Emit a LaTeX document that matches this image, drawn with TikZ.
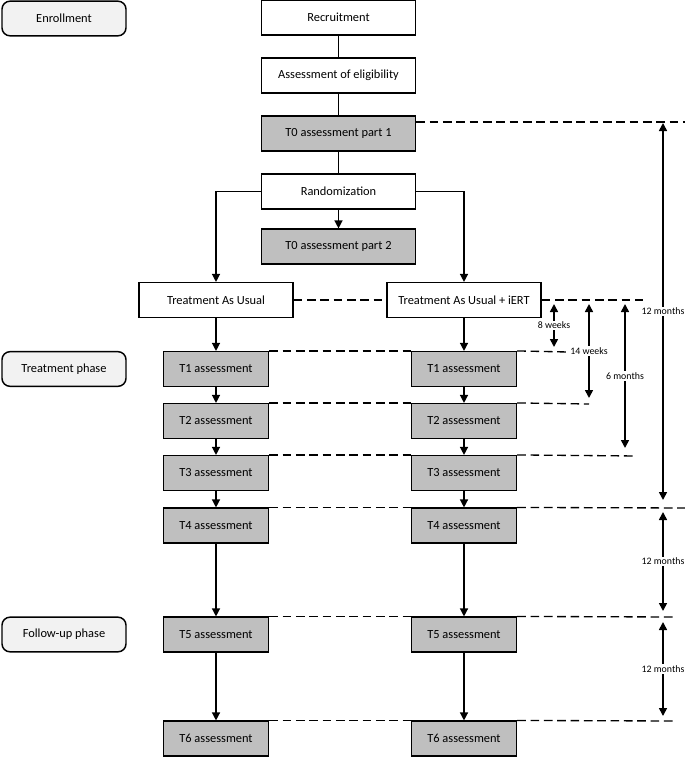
\documentclass[tikz,border=0pt]{standalone}
\usepackage{fontspec}
\setmainfont{Carlito}
\usetikzlibrary{arrows.meta}

\tikzset{
  >={Triangle[length=6pt,width=6pt]},
  box/.style={draw,line width=1.1pt,minimum width=115.5pt,minimum height=26pt,inner sep=0pt,font=\fontsize{9.3}{11}\selectfont},
  greybox/.style={box,fill=gray!50},
  tbox/.style={greybox,minimum width=78.75pt},
  phase/.style={box,rounded corners=6pt,fill=black!5,minimum width=93pt},
  link/.style={line width=1pt},
  guide/.style={line width=1pt,dash pattern=on 6.5pt off 3.5pt},
  span/.style={line width=1.2pt,<->},
  spanlabel/.style={fill=white,inner sep=1pt,font=\fontsize{7.4}{8}\selectfont}
}

\begin{document}
\begin{tikzpicture}[x=0.75pt,y=-0.75pt]
  \useasboundingbox (0,0) rectangle (685,757);

  % phase labels on the left
  \node[phase] (enrol) at (64,18.5) {Enrollment};
  \node[phase] (treat) at (64,369) {Treatment phase};
  \node[phase] (follow) at (64,634.5) {Follow-up phase};

  % enrollment chain
  \node[box] (recruit) at (338.5,17.5) {Recruitment};
  \node[box] (elig) at (338.5,75.5) {Assessment of eligibility};
  \node[greybox] (t0a) at (338.5,133.5) {T0 assessment part 1};
  \node[box] (rand) at (338.5,191.5) {Randomization};
  \node[greybox] (t0b) at (338.5,246.5) {T0 assessment part 2};

  % the two arms
  \node[box] (tau) at (216,300) {Treatment As Usual};
  \node[box] (iert) at (464,300) {Treatment As Usual + iERT};

  % assessments T1..T6, both arms
  \foreach \t/\y in {1/369,2/421,3/473,4/525.5,5/634.5,6/738.5}{
    \node[tbox] (l\t) at (216,\y) {T\t\ assessment};
    \node[tbox] (r\t) at (464,\y) {T\t\ assessment};
  }

  % flow
  \draw[link] (recruit) -- (elig);
  \draw[link] (elig) -- (t0a);
  \draw[link] (t0a) -- (rand);
  \draw[link,->] (rand) -- (t0b);
  \draw[link,->] (rand.west) -| (tau.north);
  \draw[link,->] (rand.east) -| (iert.north);
  \draw[link,->] (tau) -- (l1);
  \draw[link,->] (iert) -- (r1);
  \foreach \a/\b in {1/2,2/3,3/4,4/5,5/6}{
    \draw[link,->] (l\a) -- (l\b);
    \draw[link,->] (r\a) -- (r\b);
  }

  % ends of the dashed time lines
  \coordinate (e0) at (685,122);
  \coordinate (ea) at (643,300);
  \coordinate (e1) at (568,352);
  \coordinate (e2) at (589,404);
  \coordinate (e3) at (637,456);
  \coordinate (e4) at (685,508);
  \coordinate (e5) at (675,617);
  \coordinate (e6) at (675,721);

  % dashed time lines
  \draw[guide] (t0a.east |- e0) -- (e0);
  \draw[guide] (tau) -- (iert);
  \draw[guide] (iert.east) -- (ea);
  \foreach \t in {1,...,6}{
    \draw[guide] (l\t.north east) -- (r\t.north west);
    \draw[guide] (r\t.north east) -- (e\t);
  }

  % intervals
  \coordinate (w8a) at (554,304);  \coordinate (w8b) at (554,347);
  \coordinate (w14a) at (589,304); \coordinate (w14b) at (589,398);
  \coordinate (m6a) at (625,304);  \coordinate (m6b) at (625,448);
  \coordinate (ya) at (663,123);   \coordinate (yb) at (663,500);
  \coordinate (yc) at (663,512);   \coordinate (yd) at (663,611);
  \coordinate (ye) at (663,622);   \coordinate (yf) at (663,716);
  \draw[span] (w8a) -- node[spanlabel] {8 weeks} (w8b);
  \draw[span] (w14a) -- node[spanlabel] {14 weeks} (w14b);
  \draw[span] (m6a) -- node[spanlabel] {6 months} (m6b);
  \draw[span] (ya) -- node[spanlabel] {12 months} (yb);
  \draw[span] (yc) -- node[spanlabel] {12 months} (yd);
  \draw[span] (ye) -- node[spanlabel] {12 months} (yf);
\end{tikzpicture}
\end{document}
